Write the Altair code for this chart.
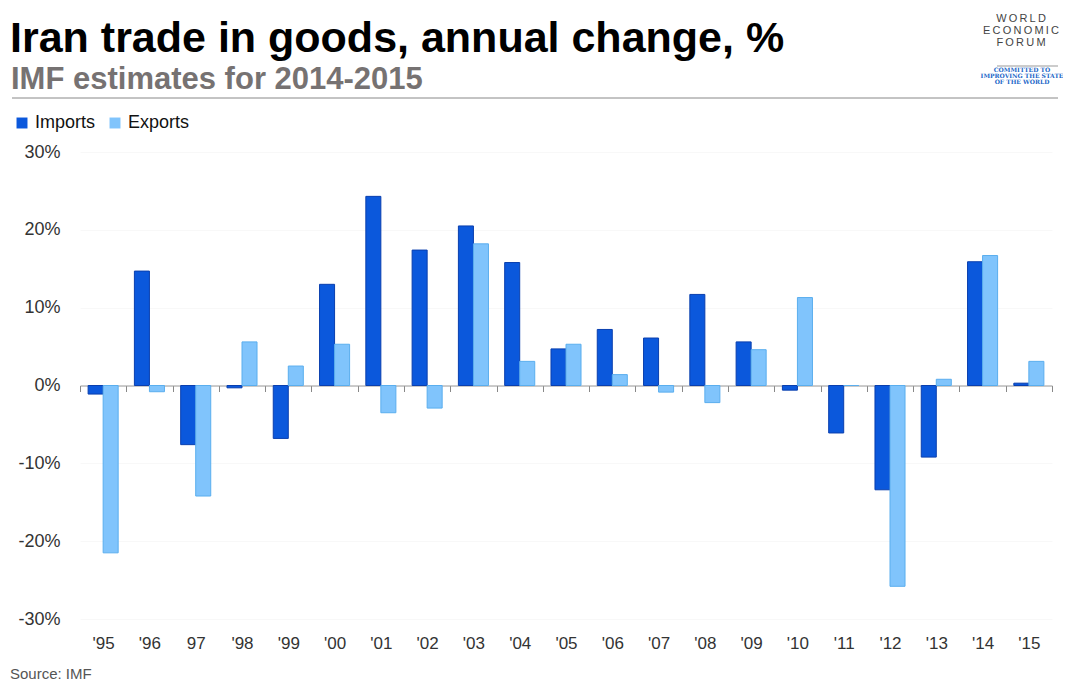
import altair as alt
import pandas as pd

years = ["'95", "'96", "97", "'98", "'99", "'00", "'01", "'02", "'03", "'04", "'05",
         "'06", "'07", "'08", "'09", "'10", "'11", "'12", "'13", "'14", "'15"]
imports = [-1.1, 14.7, -7.6, -0.3, -6.8, 13.0, 24.3, 17.4, 20.5, 15.8, 4.7,
           7.2, 6.1, 11.7, 5.6, -0.6, -6.1, -13.4, -9.2, 15.9, 0.3]
exports = [-21.5, -0.8, -14.2, 5.6, 2.5, 5.3, -3.5, -2.9, 18.2, 3.1, 5.3,
           1.4, -0.85, -2.2, 4.6, 11.3, 0.0, -25.8, 0.8, 16.7, 3.1]
series = ["Imports", "Exports"]
fills = ["#0b58dc", "#80c4fc"]
strokes = ["#0a3fae", "#5aaeee"]

rows = []
for y, i, e in zip(years, imports, exports):
    rows.append({"year": y, "series": "Imports", "value": i})
    rows.append({"year": y, "series": "Exports", "value": e})
df = pd.DataFrame(rows)

W, H = 972, 467
FONT = "Liberation Sans"

bars = alt.Chart(df).mark_bar(strokeWidth=1).encode(
    x=alt.X("year:N", sort=years, title=None,
            scale=alt.Scale(paddingInner=0, paddingOuter=0),
            axis=alt.Axis(orient="bottom", offset=-H / 2, domainColor="#999999",
                          tickColor="#888888", tickSize=6, tickBand="extent",
                          labelAngle=0, labelFontSize=17, labelColor="#333333",
                          labelFont=FONT, labelPadding=244, grid=False)),
    xOffset=alt.XOffset("series:N", sort=series,
                        scale=alt.Scale(paddingInner=0, paddingOuter=0.54)),
    y=alt.Y("value:Q", title=None,
            scale=alt.Scale(domain=[-30, 30], nice=False),
            axis=alt.Axis(values=[-30, -20, -10, 0, 10, 20, 30],
                          labelExpr="datum.value + '%'", labelFontSize=18,
                          labelColor="#333333", labelFont=FONT, labelPadding=20,
                          domain=False, ticks=False, grid=True,
                          gridColor="#f8f8f8")),
    color=alt.Color("series:N", sort=series,
                    scale=alt.Scale(domain=series, range=fills),
                    legend=alt.Legend(title=None, orient="none", legendX=-67,
                                      legendY=-38, direction="horizontal",
                                      symbolType="square", symbolSize=120,
                                      symbolStrokeWidth=0,
                                      labelFontSize=18, labelFont=FONT,
                                      labelColor="#111111", columnPadding=10,
                                      labelOffset=4)),
    stroke=alt.Stroke("series:N", sort=series,
                      scale=alt.Scale(domain=series, range=strokes), legend=None),
)

one = alt.Data(values=[{}])


def txt(text, x, y, size, color="#000000", weight="normal", align="left",
        font=FONT, baseline="alphabetic"):
    return alt.Chart(one).mark_text(
        text=text, fontSize=size, color=color, fontWeight=weight, align=align,
        font=font, baseline=baseline
    ).encode(x=alt.value(x), y=alt.value(y))


title = txt("Iran trade in goods, annual change, %", -70, -100, 43, "#000000", "bold")
subtitle = txt("IMF estimates for 2014-2015", -69, -63, 31, "#767272", "bold")
source = txt("Source: IMF", -70, 527, 15, "#555555")
header_line = alt.Chart(one).mark_rule(color="#888888", strokeWidth=1).encode(
    x=alt.value(-68), x2=alt.value(978), y=alt.value(-54))

TS = "\u2009"
LX = 941
logo_w = txt(TS.join("WORLD"), LX, -130, 11, "#444444", align="center")
logo_e = txt(TS.join("ECONOMIC"), LX, -118, 11, "#444444", align="center")
logo_f = txt(TS.join("FORUM"), LX, -106, 11, "#444444", align="center")
logo_line = alt.Chart(one).mark_rule(color="#999999", strokeWidth=1).encode(
    x=alt.value(917), x2=alt.value(978), y=alt.value(-86))
tag1 = txt("COMMITTED TO", LX + 1, -80, 6, "#1a66c8", "bold", "center", "DejaVu Serif")
tag2 = txt("IMPROVING THE STATE", LX + 1, -74, 6, "#1a66c8", "bold", "center", "DejaVu Serif")
tag3 = txt("OF THE WORLD", LX + 1, -68, 6, "#1a66c8", "bold", "center", "DejaVu Serif")

chart = alt.layer(
    bars, title, subtitle, source, header_line,
    logo_w, logo_e, logo_f, logo_line, tag1, tag2, tag3
).properties(
    width=W, height=H,
    autosize=alt.AutoSizeParams(type="none"),
    padding={"left": 72, "top": 144, "right": 11, "bottom": 68},
).configure(
    background="white",
    view=alt.ViewConfig(strokeWidth=0, stroke="transparent"),
)

chart.save("out.html", embed_options={"renderer": "svg", "actions": False})
